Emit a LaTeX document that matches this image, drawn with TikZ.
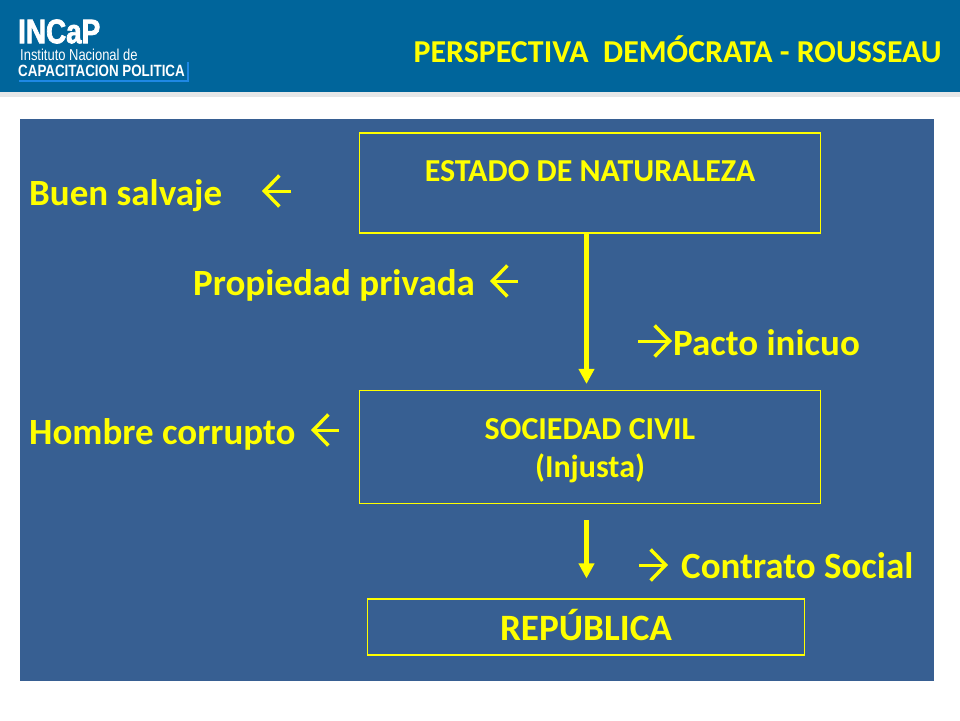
\documentclass[tikz,border=0pt]{standalone}
\usepackage{fontspec}
\setmainfont{Carlito}
\newfontfamily\logofont[FakeStretch=0.82]{Liberation Sans}
\usetikzlibrary{arrows.meta}
\usetikzlibrary{positioning}
\definecolor{headblue}{HTML}{00659B}
\definecolor{panelblue}{HTML}{375F92}
\definecolor{stripgray}{HTML}{E6E7E8}
\definecolor{logoblue}{HTML}{1E88E5}
\definecolor{amarillo}{RGB}{255,255,0}
\newcommand{\contornoon}{\special{pdf:code 2 Tr 0.7 w 1 1 1 RG}}
\newcommand{\contornooff}{\special{pdf:code 0 Tr}}
\tikzset{
    etapa/.style={draw=amarillo, line width=1.1pt, inner sep=0pt, align=center, text=amarillo, font=\fontsize{32}{38}\selectfont\bfseries},
    rotulo/.style={text=amarillo, inner sep=0pt, font=\fontsize{37}{40}\selectfont\bfseries},
    flecha/.style={draw=amarillo, line width=4.5pt, -{Triangle[length=15pt, width=15pt]}},
    flechita/.style={draw=amarillo, line width=3pt, -{Straight Barb[length=15pt, width=31pt, line width=3.4pt]}}
}
\begin{document}
\begin{tikzpicture}[x=1pt, y=-1pt]
    \useasboundingbox (0,0) rectangle (960,720);

    % fondo
    \fill[white] (0,0) rectangle (960,720);
    \fill[headblue] (0,0) rectangle (960,92);
    \fill[stripgray] (0,92) rectangle (960,97);
    \fill[panelblue] (20,119) rectangle (934,681);

    % logo
    \node[anchor=west, inner sep=0pt, text=white, font=\fontsize{34}{34}\selectfont\logofont\bfseries] (incap) at (18,31.5) {\contornoon INCaP\contornooff};
    \node[anchor=west, inner sep=0pt, text=white, font=\fontsize{15.8}{16}\selectfont\logofont] (instituto) at (20,55) {Instituto Nacional de};
    \node[anchor=west, inner sep=0pt, text=white, font=\fontsize{16.3}{17}\selectfont\logofont\bfseries] (capacitacion) at (18,71) {CAPACITACION POLITICA};
    \draw[logoblue, line width=2pt] (19,81) -- (187.5,81) -- (187.5,62);

    \node[anchor=base east, inner sep=0pt, text=amarillo, font=\fontsize{31.9}{36}\selectfont\bfseries] (titulo) at (942,62) {PERSPECTIVA\ \ DEMÓCRATA - ROUSSEAU};

    % cajas
    \node[etapa, minimum width=461pt, minimum height=100pt] (naturaleza) at (590,183) {ESTADO DE NATURALEZA\\[-14pt]\mbox{}};
    \node[etapa, minimum width=461pt, minimum height=113pt] (sociedad) at (590,447) {\rule{0pt}{29pt}SOCIEDAD CIVIL\\(Injusta)};
    \node[etapa, minimum width=437pt, minimum height=56pt, font=\fontsize{37.2}{40}\selectfont\bfseries] (republica) at (586,627) {\rule[-5pt]{0pt}{5pt}REPÚBLICA};

    \draw[flecha, shorten >=6pt] ([xshift=-3.5pt]naturaleza.south) -- ([xshift=-3.5pt]sociedad.north);
    \draw[flecha, shorten <=16pt, shorten >=20pt] ([xshift=-3.5pt]sociedad.south) -- ([xshift=-3.5pt]sociedad.south |- republica.north);

    % rotulos
    \node[rotulo, anchor=base west] (salvaje) at (29,205.5) {Buen salvaje};
    \node[rotulo, anchor=base west] (propiedad) at (193,295.5) {Propiedad privada};
    \node[rotulo, anchor=base west] (corrupto) at (29,444.5) {Hombre corrupto};
    \node[rotulo, anchor=base west] (pacto) at (673,355.5) {Pacto inicuo};
    \node[rotulo, anchor=base west] (contrato) at (681,578) {Contrato Social};

    \coordinate (s1) at (291,191);
    \coordinate (s2) at (262,191);
    \coordinate (p1) at (518,281);
    \coordinate (p2) at (490,281);
    \coordinate (h1) at (339,430);
    \coordinate (h2) at (311,430);
    \coordinate (i1) at (638,341);
    \coordinate (i2) at (672,341);
    \coordinate (c1) at (639,565);
    \coordinate (c2) at (668,565);
    \draw[flechita] (s1) -- (s2);
    \draw[flechita] (p1) -- (p2);
    \draw[flechita] (h1) -- (h2);
    \draw[flechita] (i1) -- (i2);
    \draw[flechita] (c1) -- (c2);

\end{tikzpicture}
\end{document}
